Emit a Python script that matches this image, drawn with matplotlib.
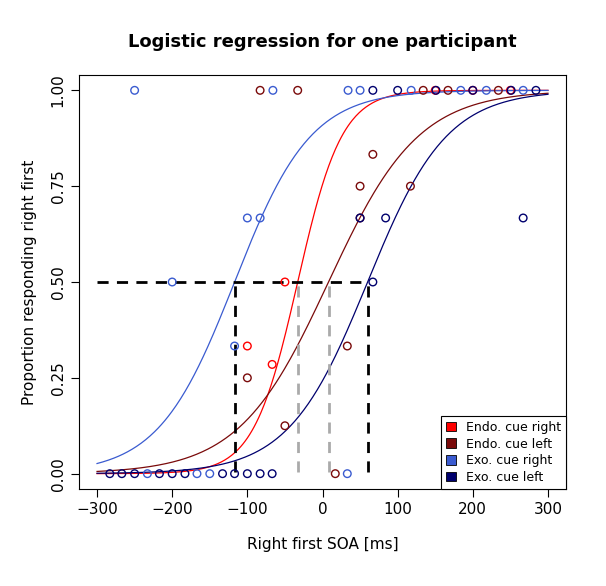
import numpy as np
import matplotlib.pyplot as plt

# fitted logistic curves: (midpoint, slope)
groups = ['Endo. cue right', 'Endo. cue left', 'Exo. cue right', 'Exo. cue left']
colors = ['#ff0000', '#7a0a0a', '#3a5bd0', '#00006e']
mids = [-33, 8, -117, 60]
slopes = [0.034, 0.0167, 0.0197, 0.019]

# observed proportions per group
endo_r_x = [-100, -67, -50, 150, 200, 250]
endo_r_y = [0.333, 0.285, 0.5, 1, 1, 1]
endo_l_x = [-83, -33, -100, -50, 33, 17, 50, 50, 67, 117, 134, 167, 234]
endo_l_y = [1, 1, 0.25, 0.125, 0.333, 0, 0.75, 0.667, 0.833, 0.75, 1, 1, 1]
exo_r_x = [-250, -66, -200, -117, -100, -83, 34, 50, 118, 184, 218, 267, -150, -167, -233, 33]
exo_r_y = [1, 1, 0.5, 0.333, 0.667, 0.667, 1, 1, 1, 1, 1, 1, 0, 0, 0, 0]
exo_l_x = [50, 67, 84, 267, 67, 100, 151, 200, 251, 284,
           -283, -267, -250, -217, -200, -183, -133, -117, -100, -83, -67]
exo_l_y = [0.667, 1, 0.667, 0.667, 0.5, 1, 1, 1, 1, 1,
           0, 0, 0, 0, 0, 0, 0, 0, 0, 0, 0]
pts_x = [endo_r_x, endo_l_x, exo_r_x, exo_l_x]
pts_y = [endo_r_y, endo_l_y, exo_r_y, exo_l_y]

fig = plt.figure(figsize=(6.06, 5.86), dpi=100)
ax = fig.add_axes([79/606, 97/586, 487/606, 414/586])

xs = np.linspace(-300, 300, 400)
for c, m, k, px, py in zip(colors, mids, slopes, pts_x, pts_y):
    ax.plot(xs, 1 / (1 + np.exp(-k * (xs - m))), color=c, lw=0.9)
    ax.scatter(px, py, s=30, facecolors='none', edgecolors=c, linewidths=1, zorder=3)

# threshold markers
ax.plot([-300, 60], [0.5, 0.5], 'k--', lw=2, dashes=(4, 3))
for m, c in [(-117, 'black'), (60, 'black'), (-33, '#aaaaaa'), (8, '#aaaaaa')]:
    ax.plot([m, m], [0.005, 0.5], '--', color=c, lw=2, dashes=(4, 3))

ax.set_xlim(-324, 324)
ax.set_ylim(-0.04, 1.04)
ax.set_xticks(range(-300, 301, 100))
ax.set_yticks([0, 0.25, 0.5, 0.75, 1])
ax.set_yticklabels(['0.00', '0.25', '0.50', '0.75', '1.00'], rotation=90, va='center')
ax.tick_params(labelsize=11, direction='out', length=6)
ax.set_xlabel('Right first SOA [ms]', fontsize=11, labelpad=14)
ax.set_ylabel('Proportion responding right first', fontsize=11, labelpad=10)
ax.set_title('Logistic regression for one participant', fontsize=13, fontweight='bold', pad=20)

handles = [plt.Rectangle((0, 0), 1, 1, facecolor=c, edgecolor='black', lw=0.6) for c in colors]
leg = ax.legend(handles, groups, loc='lower right', fontsize=9, fancybox=False,
                edgecolor='black', handlelength=0.8, handleheight=0.8, borderaxespad=0,
                framealpha=1, labelspacing=0.3)
leg.get_frame().set_linewidth(0.8)

fig.savefig('out.png', dpi=100)
